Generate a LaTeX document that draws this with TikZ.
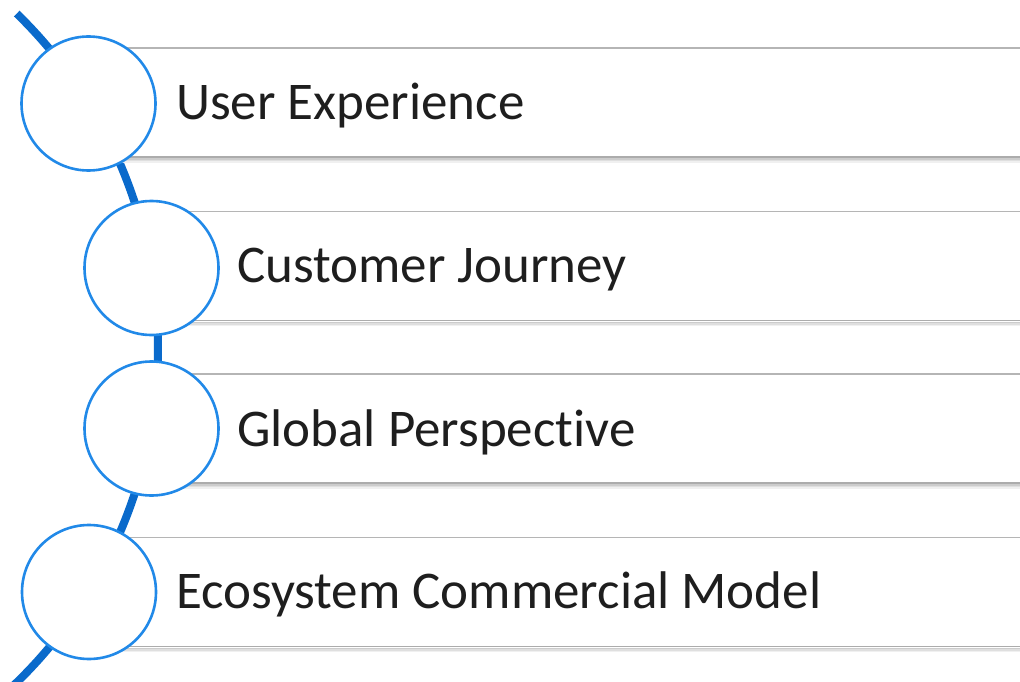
\documentclass[tikz,border=0pt]{standalone}
\usepackage{fontspec}
\setmainfont{Carlito}[Ligatures={NoCommon}]
\definecolor{curveblue}{HTML}{0A6ACB}
\definecolor{ringblue}{HTML}{2189E8}
\definecolor{textdark}{HTML}{1E1E1E}
\begin{document}
\begin{tikzpicture}[x=1pt,y=-1pt,
  ring/.style={circle,draw=ringblue,line width=2.6pt,fill=white,minimum size=134pt,inner sep=0pt},
  label/.style={anchor=west,font=\fontsize{53}{60}\selectfont,text=textdark,inner sep=0pt},
  bartop/.style={draw=gray!58,line width=1.6pt},
  barbot/.style={draw=gray!65,line width=1.8pt}]
\useasboundingbox (0,0) rectangle (1020,682);
\clip (0,0) rectangle (1020,682);
% curved spine
\draw[curveblue,line width=8pt] (-308.5,348) ++(-45.8:466.5) arc[start angle=-45.8,end angle=50,radius=466.5];
% bars
\foreach \cx/\top in {88.5/48,151.5/211.5,151.5/374,89/537.5}{
  \fill[white] (\cx,\top) rectangle (1030,\top+109);
  \foreach \d/\g in {2/40,3.5/25,5/12}{
    \draw[gray!\g,line width=1.5pt] (\cx,\top+109+\d) -- (1030,\top+109+\d);
  }
  \draw[bartop] (\cx,\top) -- (1030,\top);
  \draw[barbot] (\cx,\top+109) -- (1030,\top+109);
}
% circles
\node[ring] (c1) at (88.5,103.5) {};
\node[ring] (c2) at (151.5,268) {};
\node[ring] (c3) at (151.5,428.5) {};
\node[ring] (c4) at (89,592) {};
% labels
\node[label] (t1) at (176,105.5) {User Experience};
\node[label] (t2) at (237,269.5) {Customer Journey};
\node[label] (t3) at (237,432.5) {Global Perspective};
\node[label] (t4) at (176,594.5) {Ecosystem Commercial Model};
\end{tikzpicture}
\end{document}
